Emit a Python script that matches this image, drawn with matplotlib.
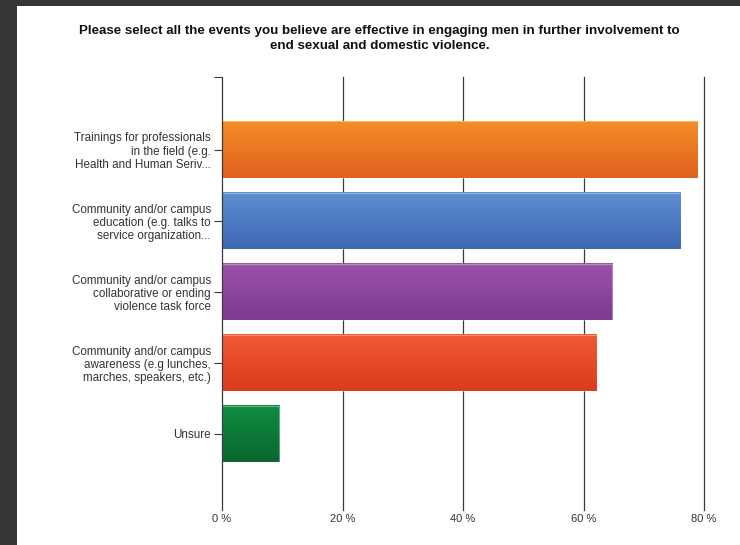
import numpy as np
import matplotlib
matplotlib.use("Agg")
import matplotlib.pyplot as plt
from matplotlib.colors import LinearSegmentedColormap
from matplotlib.patches import Rectangle

plt.rcParams['font.family'] = ['Liberation Sans', 'DejaVu Sans']

title = ("Please select all the events you believe are effective in engaging men in further involvement to\n"
         "end sexual and domestic violence.")
categories = [
    "Trainings for professionals\nin the field (e.g.\nHealth and Human Seriv...",
    "Community and/or campus\neducation (e.g. talks to\nservice organization...",
    "Community and/or campus\ncollaborative or ending\nviolence task force",
    "Community and/or campus\nawareness (e.g lunches,\nmarches, speakers, etc.)",
    "Unsure",
]
values = [79.0, 76.1, 64.8, 62.2, 9.5]
xticks = [0, 20, 40, 60, 80]
xtick_labels = ["0 %", "20 %", "40 %", "60 %", "80 %"]

# (top colour, bottom colour) of each bar's vertical gradient
bar_colors = [
    ("#F68D26", "#DE611E"),
    ("#5E8ED2", "#3D68B3"),
    ("#9B52A8", "#7D3A8F"),
    ("#EF5A35", "#DB3A1E"),
    ("#108C42", "#0A672E"),
]

fig = plt.figure(figsize=(7.4, 5.45), dpi=100)
fig.patch.set_facecolor("white")

# dark frame strips along the top and left edges
frame = "#363636"
fig.add_artist(Rectangle((0, 1 - 6 / 545), 1, 6 / 545, transform=fig.transFigure,
                         facecolor=frame, edgecolor="none", zorder=0))
fig.add_artist(Rectangle((0, 0), 17 / 740, 1, transform=fig.transFigure,
                         facecolor=frame, edgecolor="none", zorder=0))

fig.text(0.513, 1 - 38.5 / 545, title, ha="center", va="center", fontsize=9.6,
         fontweight="bold", color="#111111", linespacing=1.3)

ax = fig.add_axes([222 / 740, 1 - 510 / 545, (704 - 222) / 740, (510 - 77) / 545])
ax.set_facecolor("none")

ypos = np.arange(len(categories))
bar_h = 0.79
for y, v, (c_top, c_bot) in zip(ypos, values, bar_colors):
    cmap = LinearSegmentedColormap.from_list("g", [c_top, c_bot])
    grad = np.linspace(0, 1, 64).reshape(-1, 1)
    ax.imshow(grad, cmap=cmap, aspect="auto", interpolation="bicubic",
              extent=(0, v, y + bar_h / 2, y - bar_h / 2), zorder=3)
    ax.add_patch(Rectangle((0, y - bar_h / 2), v, bar_h, facecolor="none",
                           edgecolor=(1, 1, 1, 0.35), linewidth=0.8, zorder=4))

ax.set_xlim(0, 80)
ax.set_ylim(len(categories) - 1 + 1.07, -1.02)

for x in xticks[1:]:
    ax.axvline(x, color="#3a3a3a", linewidth=0.9, zorder=2, clip_on=False)

for s in ["top", "bottom", "right"]:
    ax.spines[s].set_visible(False)
ax.spines["left"].set_color("#3a3a3a")
ax.spines["left"].set_linewidth(0.9)
ax.spines["left"].set_zorder(5)

ax.set_yticks(ypos)
ax.set_yticklabels(categories, fontsize=8.4, color="#333333", linespacing=1.12)
ax.set_yticks([-1.02], minor=True)
ax.tick_params(axis="y", which="both", length=6, width=0.8, color="#3a3a3a", pad=2)

ax.set_xticks(xticks)
ax.set_xticklabels(xtick_labels, fontsize=8, color="#333333")
ax.tick_params(axis="x", length=0, pad=3)

fig.savefig("out.png", dpi=100, facecolor="white")
